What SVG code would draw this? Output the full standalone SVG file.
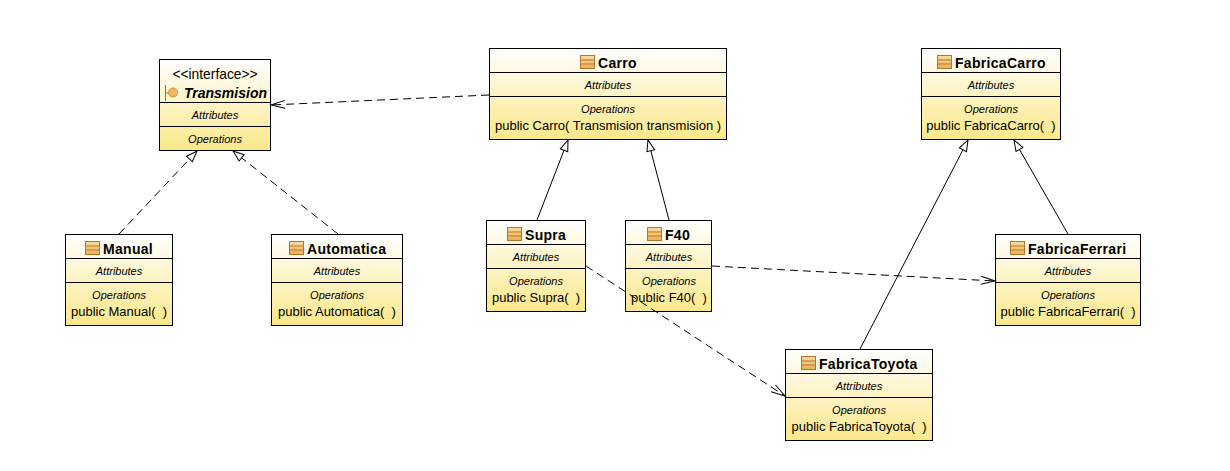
<svg xmlns="http://www.w3.org/2000/svg" width="1230" height="471" viewBox="0 0 1230 471">
<style>
.box{fill:url(#g);stroke:#000;stroke-width:1}
.div{stroke:#000;stroke-width:1;fill:none}
text{font-family:"Liberation Sans",Arial,sans-serif;fill:#000;text-anchor:middle;white-space:pre}
.t{font-size:14px;font-weight:bold;text-anchor:start;letter-spacing:.3px}
.s{font-size:11px;font-style:italic}
.m{font-size:13px}
.c{fill:none;stroke:#000;stroke-width:1}
.d{stroke-dasharray:8 5}
</style>
<defs>
<linearGradient id="g" x1="0" y1="0" x2="0" y2="1"><stop offset="0" stop-color="#ffffff"/><stop offset="1" stop-color="#fbe88a"/></linearGradient>
<linearGradient id="ig" x1="0" y1="0" x2="0" y2="1"><stop offset="0" stop-color="#fbdca0"/><stop offset="1" stop-color="#ecae55"/></linearGradient>
<g id="icon"><rect x="0.5" y="0.5" width="14" height="13" fill="url(#ig)" stroke="#b5742a"/><path d="M1 5H14M1 9H14" stroke="#b5742a" fill="none"/></g>
<marker id="open" markerUnits="userSpaceOnUse" markerWidth="18" markerHeight="14" refX="16" refY="7" orient="auto"><path d="M2 3L16 7L2 11" fill="none" stroke="#000"/></marker>
<marker id="tri" markerUnits="userSpaceOnUse" markerWidth="18" markerHeight="14" refX="16" refY="7" orient="auto"><path d="M5 3L16 7L5 11Z" fill="#fff" stroke="#000"/></marker>
</defs>
<g id="Transmision">
<rect class="box" x="159.5" y="59.5" width="111" height="91"/>
<path class="div" d="M160 102.500H270M160 126.500H270"/>
<text x="215" y="79" font-size="13.800">&lt;&lt;interface&gt;&gt;</text>
<path d="M165.500 85V101" stroke="#a86a1e" fill="none"/><path d="M166 93H169" stroke="#a86a1e" fill="none"/><circle cx="173" cy="92.500" r="4.500" fill="#f2b65c" stroke="#d9963c"/>
<text class="t" x="184" y="98" font-style="italic" style="letter-spacing:0">Transmision</text>
<text class="s" x="215" y="119">Attributes</text>
<text class="s" x="215" y="143">Operations</text>
</g>
<g id="Carro">
<rect class="box" x="489.500" y="48.500" width="237" height="91"/>
<path class="div" d="M490 72.500H726M490 96.500H726"/>
<use href="#icon" x="580" y="55"/>
<text class="t" x="598" y="68">Carro</text>
<text class="s" x="608" y="89">Attributes</text>
<text class="s" x="608" y="113">Operations</text>
<text class="m" x="608" y="130">public Carro( Transmision transmision )</text>
</g>
<g id="FabricaCarro">
<rect class="box" x="921.500" y="48.500" width="139" height="91"/>
<path class="div" d="M922 72.500H1060M922 96.500H1060"/>
<use href="#icon" x="937" y="55"/>
<text class="t" x="955" y="68">FabricaCarro</text>
<text class="s" x="991" y="89">Attributes</text>
<text class="s" x="991" y="113">Operations</text>
<text class="m" x="991" y="130">public FabricaCarro(  )</text>
</g>
<g id="Manual">
<rect class="box" x="65.500" y="234.500" width="107" height="91"/>
<path class="div" d="M66 258.500H172M66 282.500H172"/>
<use href="#icon" x="85" y="241"/>
<text class="t" x="103" y="254">Manual</text>
<text class="s" x="119" y="275">Attributes</text>
<text class="s" x="119" y="299">Operations</text>
<text class="m" x="119" y="316">public Manual(  )</text>
</g>
<g id="Automatica">
<rect class="box" x="271.500" y="234.500" width="131" height="91"/>
<path class="div" d="M272 258.500H402M272 282.500H402"/>
<use href="#icon" x="289" y="241"/>
<text class="t" x="307" y="254">Automatica</text>
<text class="s" x="337" y="275">Attributes</text>
<text class="s" x="337" y="299">Operations</text>
<text class="m" x="337" y="316">public Automatica(  )</text>
</g>
<g id="Supra">
<rect class="box" x="486.500" y="220.500" width="99" height="91"/>
<path class="div" d="M487 244.500H585M487 268.500H585"/>
<use href="#icon" x="507" y="227"/>
<text class="t" x="525" y="240">Supra</text>
<text class="s" x="536" y="261">Attributes</text>
<text class="s" x="536" y="285">Operations</text>
<text class="m" x="536" y="302">public Supra(  )</text>
</g>
<g id="F40">
<rect class="box" x="625.500" y="220.500" width="86" height="91"/>
<path class="div" d="M626 244.500H711M626 268.500H711"/>
<use href="#icon" x="647" y="227"/>
<text class="t" x="665" y="240">F40</text>
<text class="s" x="669" y="261">Attributes</text>
<text class="s" x="669" y="285">Operations</text>
<text class="m" x="669" y="302">public F40(  )</text>
</g>
<g id="FabricaFerrari">
<rect class="box" x="995.500" y="234.500" width="145" height="91"/>
<path class="div" d="M996 258.500H1140M996 282.500H1140"/>
<use href="#icon" x="1010" y="241"/>
<text class="t" x="1028" y="254">FabricaFerrari</text>
<text class="s" x="1068" y="275">Attributes</text>
<text class="s" x="1068" y="299">Operations</text>
<text class="m" x="1068" y="316">public FabricaFerrari(  )</text>
</g>
<g id="FabricaToyota">
<rect class="box" x="785.500" y="349.500" width="147" height="91"/>
<path class="div" d="M786 373.500H932M786 397.500H932"/>
<use href="#icon" x="801" y="356"/>
<text class="t" x="819" y="369">FabricaToyota</text>
<text class="s" x="859" y="390">Attributes</text>
<text class="s" x="859" y="414">Operations</text>
<text class="m" x="859" y="431">public FabricaToyota(  )</text>
</g>
<g id="connectors">
<path class="c d" d="M489 95L271 105" marker-end="url(#open)"/>
<path class="c d" d="M119 234L197 151" marker-end="url(#tri)"/>
<path class="c d" d="M338 234L233 151" marker-end="url(#tri)"/>
<path class="c" d="M537 220L568 140" marker-end="url(#tri)"/>
<path class="c" d="M669 220L648 140" marker-end="url(#tri)"/>
<path class="c" d="M860 349L968 140" marker-end="url(#tri)"/>
<path class="c" d="M1068 234L1014 140" marker-end="url(#tri)"/>
<path class="c d" d="M712 266L995 281" marker-end="url(#open)"/>
<path class="c d" d="M586 266L785 396" marker-end="url(#open)"/>
</g>
</svg>
